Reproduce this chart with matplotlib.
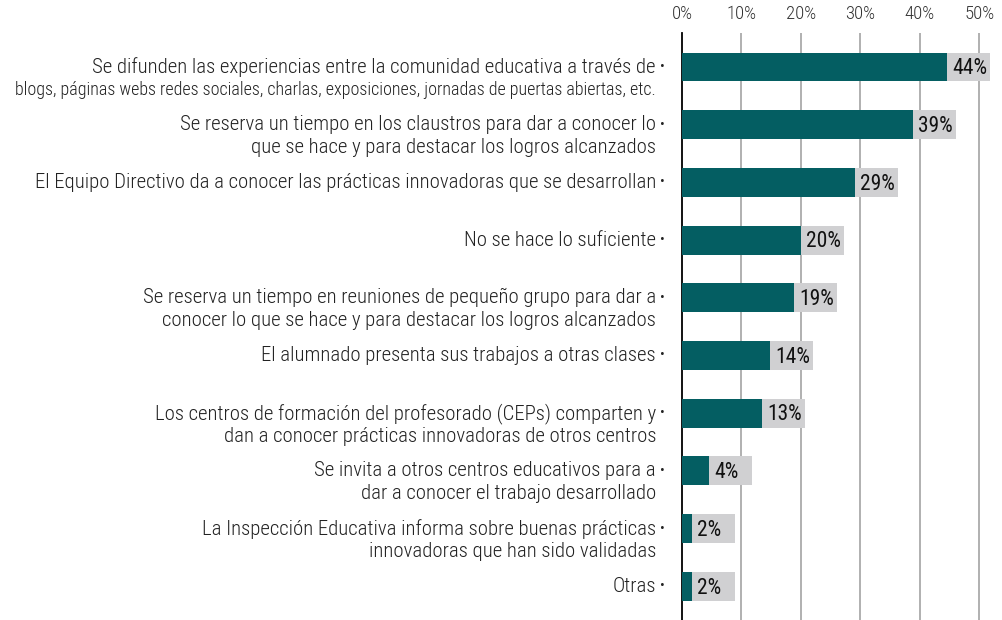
import matplotlib
matplotlib.use("Agg")
import matplotlib.pyplot as plt
import matplotlib.transforms as mtransforms
from matplotlib import font_manager
import numpy as np

# data
labels_line1 = [
    "Se difunden las experiencias entre la comunidad educativa a través de",
    "Se reserva un tiempo en los claustros para dar a conocer lo",
    "El Equipo Directivo da a conocer las prácticas innovadoras que se desarrollan",
    "No se hace lo suficiente",
    "Se reserva un tiempo en reuniones de pequeño grupo para dar a",
    "El alumnado presenta sus trabajos a otras clases",
    "Los centros de formación del profesorado (CEPs) comparten y",
    "Se invita a otros centros educativos para a",
    "La Inspección Educativa informa sobre buenas prácticas",
    "Otras",
]
labels_line2 = [
    "blogs, páginas webs redes sociales, charlas, exposiciones, jornadas de puertas abiertas, etc.",
    "que se hace y para destacar los logros alcanzados",
    "",
    "",
    "conocer lo que se hace y para destacar los logros alcanzados",
    "",
    "dan a conocer prácticas innovadoras de otros centros",
    "dar a conocer el trabajo desarrollado",
    "innovadoras que han sido validadas",
    "",
]
values = [44.5, 38.8, 29.1, 20.0, 18.8, 14.8, 13.5, 4.5, 1.7, 1.7]
shown = ["44%", "39%", "29%", "20%", "19%", "14%", "13%", "4%", "2%", "2%"]
ticks = [0, 10, 20, 30, 40, 50]

installed = {f.name for f in font_manager.fontManager.ttflist}
fam = "DejaVu Sans"
for cand in ["Roboto Condensed", "Liberation Sans Narrow", "Roboto"]:
    if cand in installed:
        fam = cand
        break
plt.rcParams["font.family"] = [fam, "DejaVu Sans"]

teal = "#045e62"
grey_box = "#d0d0d2"
txt = "#222222"

fig = plt.figure(figsize=(10.02, 6.2), dpi=100)
ax = fig.add_axes([682 / 1002, 0, 320 / 1002, 1 - 33 / 620])

y = np.arange(len(values))
box_w = 7.2
ax.barh(y, values, height=0.5, color=teal, zorder=3)
ax.barh(y, [box_w] * len(values), left=values, height=0.5, color=grey_box, zorder=3)
for yi, v, s in zip(y, values, shown):
    ax.text(v + 0.9, yi + 0.03, s, va="center", ha="left", fontsize=15.5, color="#111111", zorder=4)

ax.set_xlim(0, 53.8)
ax.set_ylim(9.584, -0.589)
ax.set_xticks(ticks)
ax.set_xticklabels([f"{t}%" for t in ticks], fontsize=13.5, color="#333333", fontweight="light")
ax.xaxis.tick_top()
ax.tick_params(axis="x", length=0, pad=7)
ax.set_yticks([])
for t in ticks[1:]:
    ax.axvline(t, color="#aaaaaa", lw=1.3, zorder=1)
for sp in ["top", "right", "bottom"]:
    ax.spines[sp].set_visible(False)
ax.spines["left"].set_color("black")
ax.spines["left"].set_linewidth(1.3)

# left labels with bullets
base = mtransforms.blended_transform_factory(ax.transAxes, ax.transData)
text_tr = base + mtransforms.ScaledTranslation(-26 / 100, 0, fig.dpi_scale_trans)
bullet_tr = base + mtransforms.ScaledTranslation(-20 / 100, 0, fig.dpi_scale_trans)
line2_tr = base + mtransforms.ScaledTranslation(-26 / 100, -23 / 100, fig.dpi_scale_trans)
for i, (l1, l2) in enumerate(zip(labels_line1, labels_line2)):
    ax.text(0, i, l1, transform=text_tr, ha="right", va="center", fontsize=14.95,
            color=txt, fontweight="light")
    ax.text(0, i, "•", transform=bullet_tr, ha="center", va="center", fontsize=10, color=txt)
    if l2:
        fs = 13.0 if i == 0 else 14.95
        ax.text(0, i, l2, transform=line2_tr, ha="right", va="center", fontsize=fs,
                color=txt, fontweight="light")

fig.savefig("out.png", dpi=100)
